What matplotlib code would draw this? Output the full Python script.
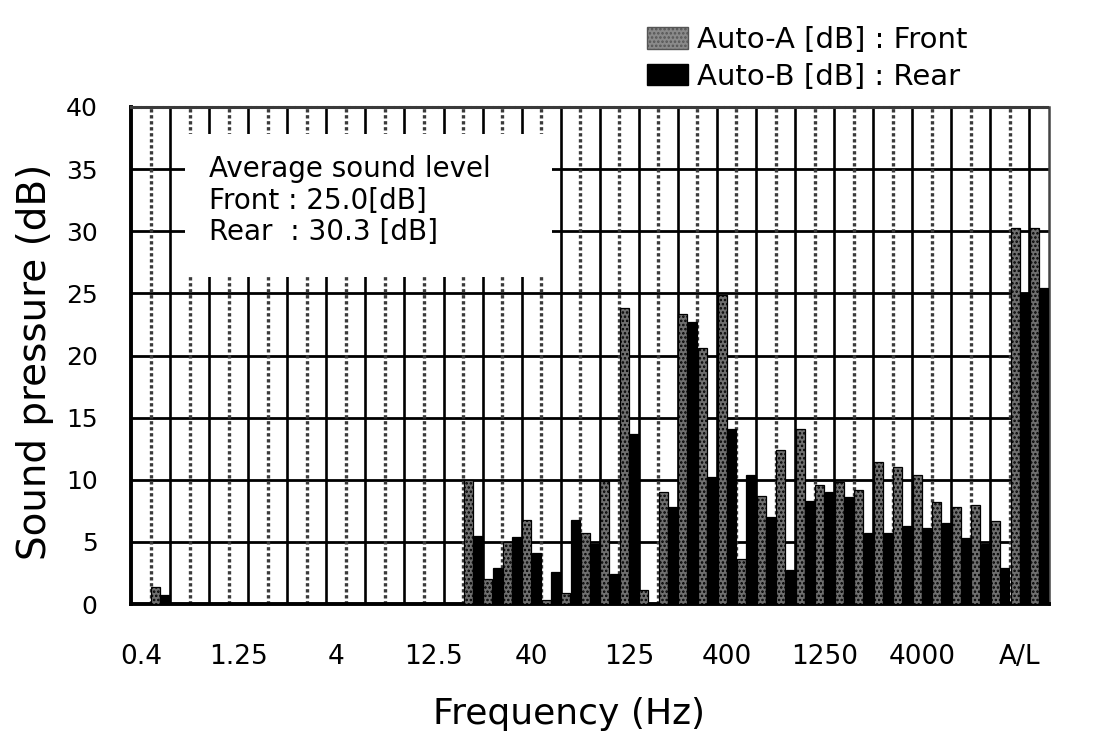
import matplotlib
matplotlib.use('Agg')
import matplotlib.pyplot as plt
import numpy as np
from matplotlib.patches import Patch, Rectangle

# 1/3-octave bands (Hz) plus overall A-weighted / linear levels
bands = ['0.4', '0.5', '0.63', '0.8', '1', '1.25', '1.6', '2', '2.5', '3.15',
         '4', '5', '6.3', '8', '10', '12.5', '16', '20', '25', '31.5',
         '40', '50', '63', '80', '100', '125', '160', '200', '250', '315',
         '400', '500', '630', '800', '1000', '1250', '1600', '2000', '2500', '3150',
         '4000', '5000', '6300', '8000', '10000', 'A', 'L']

# Auto-A (front) and Auto-B (rear) sound pressure per band, dB
front_db = [0, 1.4, 0, 0, 0, 0, 0, 0, 0, 0,
            0, 0, 0, 0, 0, 0, 0, 10.0, 2.0, 5.0,
            6.8, 0.3, 0.9, 5.7, 9.9, 23.8, 1.1, 9.0, 23.3, 20.6,
            24.9, 3.6, 8.7, 12.4, 14.1, 9.6, 9.8, 9.2, 11.4, 11.0,
            10.4, 8.2, 7.8, 8.0, 6.7, 30.3, 30.3]
rear_db = [0, 0.7, 0, 0, 0, 0, 0, 0, 0, 0,
           0, 0, 0, 0, 0, 0, 0, 5.5, 2.9, 5.4,
           4.1, 2.6, 6.8, 4.8, 2.4, 13.7, 0, 7.8, 22.7, 10.2,
           14.1, 10.4, 7.0, 2.7, 8.3, 9.0, 8.6, 5.7, 5.7, 6.3,
           6.1, 6.5, 5.3, 4.8, 2.9, 25.0, 25.4]

tick_labels = ['0.4', '1.25', '4', '12.5', '40', '125', '400', '1250', '4000', 'A/L']
tick_index = [0, 5, 10, 15, 20, 25, 30, 35, 40, 45]

avg_lines = ['Average sound level', 'Front : 25.0[dB]', 'Rear  : 30.3 [dB]']

plt.rcParams['font.family'] = ['DejaVu Sans']
plt.rcParams['hatch.color'] = 'black'
plt.rcParams['hatch.linewidth'] = 1.2

fig = plt.figure(figsize=(11.08, 7.38), dpi=100)
fig.patch.set_facecolor('white')
ax = fig.add_axes([131 / 1108, 134 / 738, 918 / 1108, 497 / 738])

x = np.arange(len(bands))
w = 0.46
ax.bar(x - 0.24, front_db, width=w, color='#707070', edgecolor='black',
       linewidth=0.9, hatch='....', zorder=3)
ax.bar(x + 0.24, rear_db, width=w, color='black', edgecolor='black',
       linewidth=0.9, zorder=3)

ax.set_xlim(-0.5, 46.5)
ax.set_ylim(0, 40)

# grid: horizontal every 5 dB, vertical at every band boundary
for yv in range(5, 40, 5):
    ax.axhline(yv, color='black', linewidth=2.0, zorder=1)
for k, xb in enumerate(np.arange(0.5, 46, 1.0)):
    if k % 2 == 0:
        ax.axvline(xb, color='#3a3a3a', linewidth=2.4, linestyle=(0, (1, 0.8)), zorder=1)
    else:
        ax.axvline(xb, color='black', linewidth=1.9, zorder=1)

# inset with average levels
ax.add_patch(Rectangle((2.25, 26.3), 18.8, 11.5, facecolor='white',
                       edgecolor='none', zorder=2))
for i, line in enumerate(avg_lines):
    ax.text(3.5, 35.0 - 2.55 * i, line, fontsize=20, va='center', ha='left', zorder=4)

ax.set_xticks(tick_index)
ax.set_xticklabels(tick_labels)
ax.set_yticks(range(0, 41, 5))
ax.tick_params(axis='x', length=0, pad=29, labelsize=19)
ax.tick_params(axis='y', length=0, pad=24, labelsize=18)

ax.set_xlabel('Frequency (Hz)', fontsize=26)
ax.set_ylabel('Sound pressure (dB)', fontsize=28)
ax.xaxis.set_label_coords(0.477, -0.188)
ax.yaxis.set_label_coords(-0.084, 0.487)

for side in ['left', 'bottom']:
    ax.spines[side].set_linewidth(2.8)
    ax.spines[side].set_color('black')
ax.spines['top'].set_linestyle((0, (1, 0.8)))
ax.spines['top'].set_color('#3a3a3a')
ax.spines['top'].set_linewidth(2.2)
ax.spines['right'].set_color('#444444')
ax.spines['right'].set_linewidth(1.8)

handles = [Patch(facecolor='#8a8a8a', edgecolor='#555555', hatch='....'),
           Patch(facecolor='black', edgecolor='black')]
labels = ['Auto-A [dB] : Front', 'Auto-B [dB] : Rear']
fig.legend(handles, labels, loc='upper left', bbox_to_anchor=(647 / 1108, 1 - 26 / 738),
           frameon=False, fontsize=21, handlelength=1.4, handleheight=0.75,
           handletextpad=0.3, labelspacing=0.3, borderpad=0, borderaxespad=0)

fig.savefig('out.png', dpi=100, facecolor='white')
